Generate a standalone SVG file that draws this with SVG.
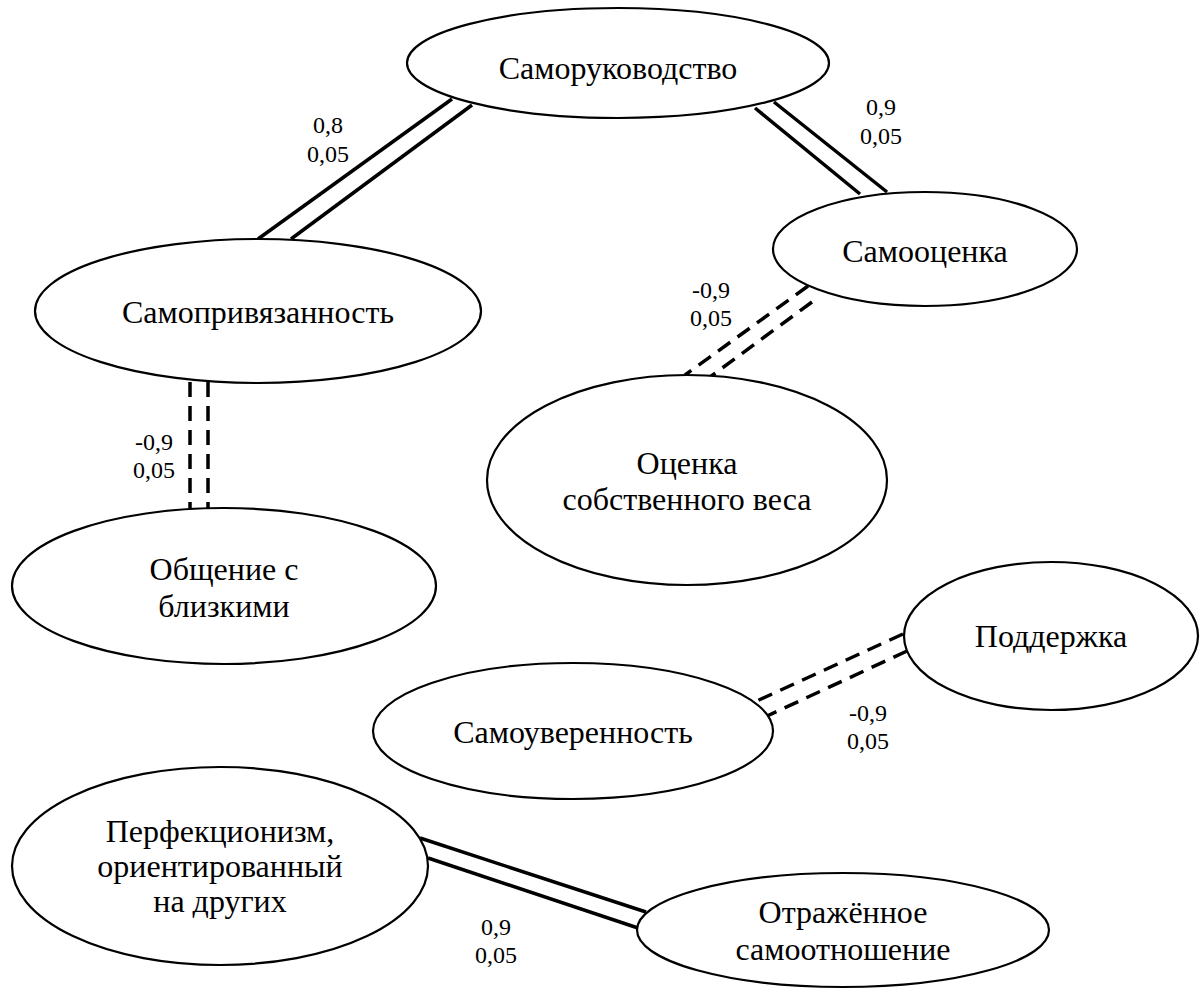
<svg xmlns="http://www.w3.org/2000/svg" width="1200" height="995" viewBox="0 0 1200 995" font-family="'Liberation Serif', 'Times New Roman', 'DejaVu Serif', serif">
<style>
ellipse.e{fill:#fff;stroke:#000;stroke-width:2.2}
text.t{font-family:'Liberation Serif','Times New Roman','DejaVu Serif',serif;font-size:32px;text-anchor:middle;fill:#000}
text.lbl{font-family:'Liberation Serif','Times New Roman','DejaVu Serif',serif;font-size:24px;text-anchor:middle;fill:#000}
line.s{stroke:#000;stroke-width:3.5;fill:none}
line.d{stroke:#000;stroke-width:3.5;fill:none;stroke-dasharray:15 9}
</style>
<rect width="1200" height="995" fill="#fff"/>
<g id="connectors">
<line class="s" x1="452" y1="99" x2="258" y2="239"/>
<line class="s" x1="472" y1="105" x2="291" y2="239"/>
<line class="s" x1="755" y1="108" x2="860" y2="194"/>
<line class="s" x1="774" y1="102" x2="887" y2="192"/>
<line class="d" x1="808" y1="286" x2="685" y2="375"/>
<line class="d" x1="812" y1="302" x2="710" y2="377"/>
<line class="d" x1="190" y1="382" x2="190" y2="508"/>
<line class="d" x1="208" y1="382" x2="208" y2="508"/>
<line class="d" x1="903" y1="634" x2="748" y2="705"/>
<line class="d" x1="907" y1="651" x2="765" y2="717"/>
<line class="s" x1="420" y1="838" x2="646" y2="912"/>
<line class="s" x1="428" y1="858" x2="638" y2="928"/>
<text class="lbl" x="328" y="133">0,8</text>
<text class="lbl" x="328" y="162">0,05</text>
<text class="lbl" x="881" y="115">0,9</text>
<text class="lbl" x="881" y="144">0,05</text>
<text class="lbl" x="711" y="298">-0,9</text>
<text class="lbl" x="711" y="326">0,05</text>
<text class="lbl" x="154" y="450">-0,9</text>
<text class="lbl" x="154" y="478">0,05</text>
<text class="lbl" x="868" y="721">-0,9</text>
<text class="lbl" x="868" y="749">0,05</text>
<text class="lbl" x="496" y="935">0,9</text>
<text class="lbl" x="496" y="963">0,05</text>
</g>
<g id="n1"><ellipse class="e" cx="618" cy="63" rx="211" ry="55"/><text class="t" x="618" y="79">Саморуководство</text></g>
<g id="n2"><ellipse class="e" cx="925" cy="249" rx="152" ry="57"/><text class="t" x="925" y="262">Самооценка</text></g>
<g id="n3"><ellipse class="e" cx="258" cy="311" rx="223" ry="72"/><text class="t" x="258" y="323">Самопривязанность</text></g>
<g id="n4"><ellipse class="e" cx="687" cy="480" rx="200" ry="105"/><text class="t" x="687" y="474">Оценка</text><text class="t" x="687" y="510">собственного веса</text></g>
<g id="n5"><ellipse class="e" cx="224" cy="586" rx="212" ry="78"/><text class="t" x="224" y="580">Общение с</text><text class="t" x="224" y="617">близкими</text></g>
<g id="n6"><ellipse class="e" cx="1051" cy="636" rx="147" ry="74"/><text class="t" x="1051" y="647">Поддержка</text></g>
<g id="n7"><ellipse class="e" cx="573" cy="731" rx="200" ry="68"/><text class="t" x="573" y="743">Самоуверенность</text></g>
<g id="n8"><ellipse class="e" cx="220" cy="866" rx="208" ry="99"/><text class="t" x="220" y="842">Перфекционизм,</text><text class="t" x="220" y="877">ориентированный</text><text class="t" x="220" y="912">на других</text></g>
<g id="n9"><ellipse class="e" cx="843" cy="930" rx="206" ry="57"/><text class="t" x="843" y="923">Отражённое</text><text class="t" x="843" y="960">самоотношение</text></g>
</svg>
